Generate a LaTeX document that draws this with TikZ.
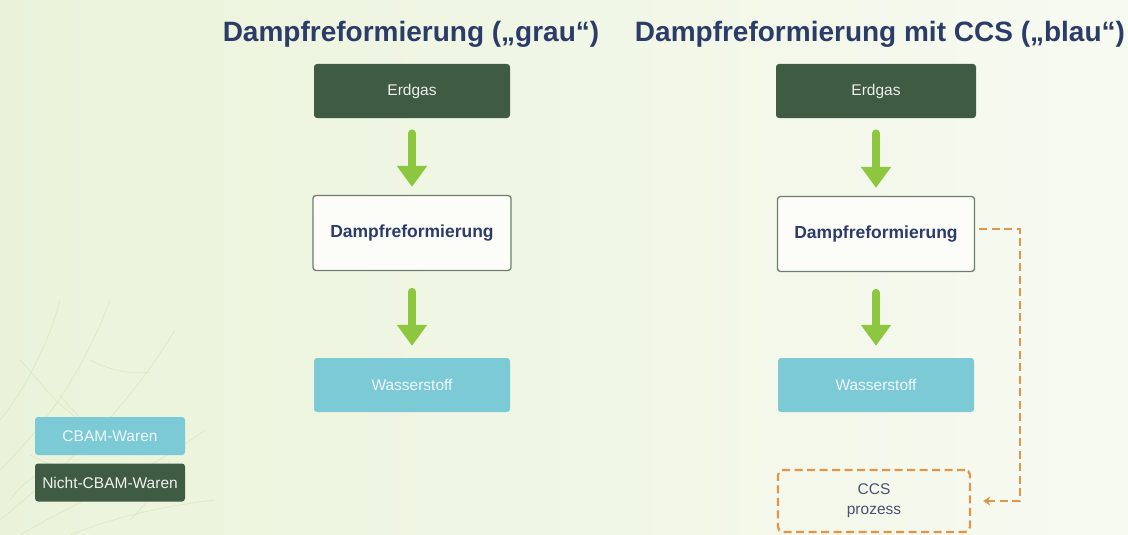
\documentclass[tikz,border=0pt]{standalone}
\usepackage{fontspec}
\setmainfont{Liberation Sans}
\usetikzlibrary{arrows.meta}
\definecolor{bgL}{HTML}{EAF3DA}
\definecolor{bgR}{HTML}{F7FAF1}
\definecolor{dkgreen}{HTML}{3F5B44}
\definecolor{cyanbox}{HTML}{7CCAD6}
\definecolor{navy}{HTML}{2C3C68}
\definecolor{arrowgreen}{HTML}{8DC63F}
\definecolor{ccsorange}{HTML}{E0964A}
\definecolor{boxline}{HTML}{6E7D6E}
\definecolor{ccstext}{HTML}{4A5270}
\definecolor{vein}{HTML}{D5E4B4}
\begin{document}
\begin{tikzpicture}[x=1pt,y=-1pt,
  every node/.style={font=\fontsize{15.5}{20}\selectfont, inner sep=0pt},
  darkbox/.style={fill=dkgreen, rounded corners=3pt, text=white!90!dkgreen, minimum width=196pt, minimum height=54pt},
  cyanbx/.style={fill=cyanbox, rounded corners=3pt, text=white!88!cyanbox, minimum width=196pt, minimum height=54pt},
  procbox/.style={draw=boxline, line width=1.3pt, fill=white!60!bgR, rounded corners=3pt, text=navy, font=\fontsize{17.5}{20}\selectfont\bfseries, minimum width=197pt, minimum height=75pt},
  legbox/.style={rounded corners=3pt, minimum width=150pt, minimum height=38pt},
  title/.style={text=navy, font=\fontsize{28}{32}\selectfont\bfseries},
  bigarrow/.style={draw=arrowgreen, line width=7.5pt, line cap=round, -{Triangle[width=29pt,length=21pt]}},
  ccsline/.style={draw=ccsorange, line width=2.3pt, dash pattern=on 8pt off 4.5pt},
  ccsbox/.style={ccsline, rounded corners=5pt, text=ccstext, align=center, minimum width=192pt, minimum height=62pt}
]
\shade[left color=bgL, right color=bgR] (0,0) rectangle (1128,535);
\useasboundingbox (0,0) rectangle (1128,535);

% faint leaf veins bottom-left
\begin{scope}[vein, line width=0.8pt, opacity=0.6]
  \draw (0,520) .. controls (60,470) and (120,420) .. (175,330);
  \draw (0,470) .. controls (40,430) and (80,380) .. (110,300);
  \draw (0,420) .. controls (25,390) and (50,340) .. (60,300);
  \draw (20,535) .. controls (80,500) and (150,470) .. (205,430);
  \draw (70,535) .. controls (120,515) and (170,505) .. (215,500);
  \draw (30,455) .. controls (60,470) and (90,480) .. (120,485);
  \draw (60,395) .. controls (80,420) and (100,440) .. (140,455);
  \draw (20,360) .. controls (40,380) and (50,400) .. (80,420);
  \draw (90,360) .. controls (110,370) and (130,375) .. (150,372);
  \draw (10,500) .. controls (25,480) and (40,470) .. (60,468);
  \draw (130,520) .. controls (150,500) and (165,480) .. (170,460);
\end{scope}

% titles
\node[title] (t1) at (411,34) {Dampfreformierung („grau“)};
\node[title] (t2) at (880,34) {Dampfreformierung mit CCS („blau“)};

% left column
\node[darkbox] (lE) at (412,91) {Erdgas};
\node[procbox, minimum width=198pt] (lD) at (412,233) {Dampfreformierung};
\node[cyanbx] (lW) at (412,385) {Wasserstoff};
\draw[bigarrow, shorten <=15pt, shorten >=8pt] (lE.south) -- (lD.north);
\draw[bigarrow, shorten <=20.5pt, shorten >=12pt] (lD.south) -- (lW.north);

% right column
\node[darkbox, minimum width=200pt] (rE) at (876,91) {Erdgas};
\node[procbox] (rD) at (876,234) {Dampfreformierung};
\node[cyanbx] (rW) at (876,385) {Wasserstoff};
\draw[bigarrow, shorten <=15pt, shorten >=8pt] (rE.south) -- (rD.north);
\draw[bigarrow, shorten <=20.5pt, shorten >=12pt] (rD.south) -- (rW.north);

% CCS
\node[ccsbox] (ccs) at (874,501) {CCS\\prozess};
\coordinate (bend) at (1020,229);
\draw[ccsline, -{Stealth[length=7pt,width=9pt]}, shorten >=12pt] ([yshift=5pt, xshift=4pt]rD.east) -- (bend) |- (ccs.east);

% legend
\node[legbox, fill=cyanbox, text=white!88!cyanbox] (leg1) at (110,436) {CBAM-Waren};
\node[legbox, fill=dkgreen, text=white!92!dkgreen] (leg2) at (110,482.5) {Nicht-CBAM-Waren};
\end{tikzpicture}
\end{document}
